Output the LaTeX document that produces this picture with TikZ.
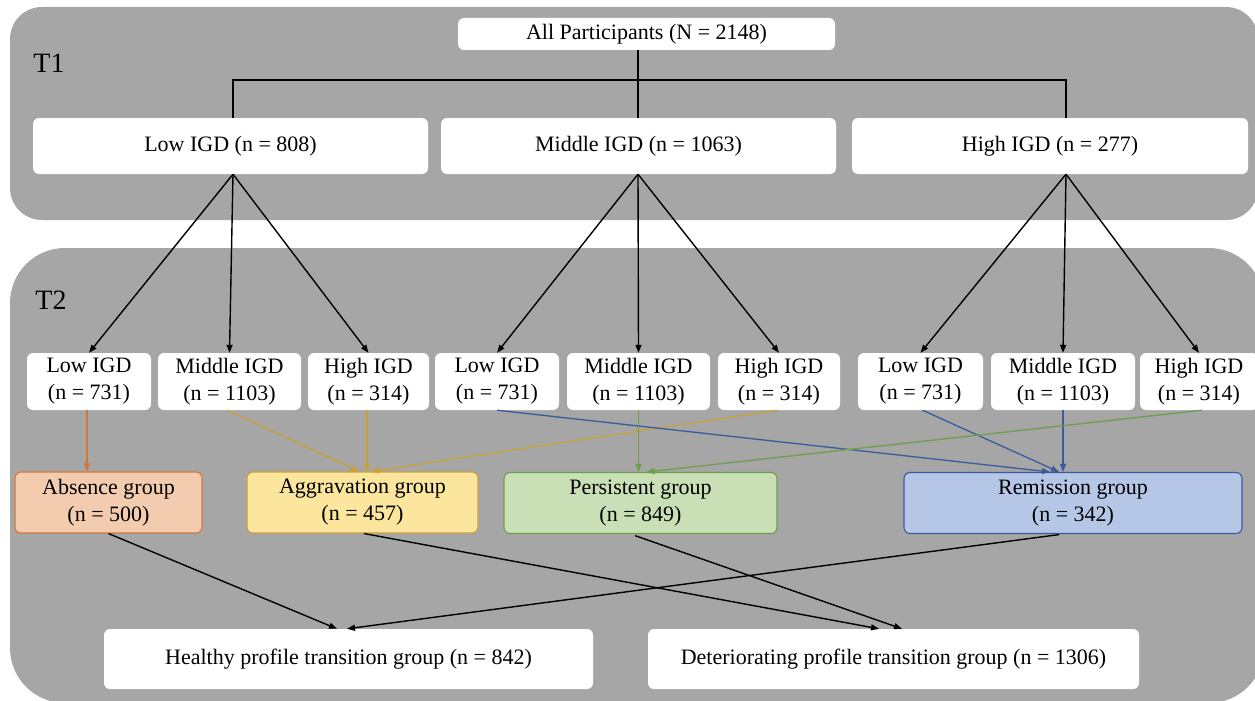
\documentclass[tikz,border=0pt]{standalone}
\usepackage{fontspec}
\setmainfont{Liberation Serif}
\usetikzlibrary{arrows.meta,calc}
\definecolor{panelgray}{HTML}{A6A6A6}
\definecolor{absfill}{HTML}{F3CCAF}
\definecolor{absdraw}{HTML}{D2783A}
\definecolor{aggfill}{HTML}{FCE59C}
\definecolor{aggdraw}{HTML}{C9A13A}
\definecolor{perfill}{HTML}{C9E0B7}
\definecolor{perdraw}{HTML}{6E9E4C}
\definecolor{remfill}{HTML}{B5C6E6}
\definecolor{remdraw}{HTML}{3A5C9E}
\begin{document}
\begin{tikzpicture}[x=1pt,y=-1pt,
  panel/.style={fill=panelgray, draw=none},
  wbox/.style={fill=white, draw=none, rounded corners=6pt, align=center, inner sep=0pt,
    font=\fontsize{22}{27}\selectfont},
  grp/.style={wbox, line width=1.1pt},
  tlabel/.style={font=\fontsize{28}{30}\selectfont, inner sep=0pt},
  tip/.style={-{Triangle[length=8pt,width=6pt]}},
  blk/.style={draw=black, line width=1.4pt},
  blkarr/.style={blk, tip},
  colarr/.style={line width=1.3pt, tip}
]
\useasboundingbox (0,0) rectangle (1255,701);
% panels
\fill[panelgray, rounded corners=32pt] (10,7) rectangle (1258,220);
\fill[panelgray, rounded corners=55pt] (10,248) rectangle (1264,703);
\node[tlabel] (t1) at (49,63) {T1};
\node[tlabel] (t2) at (51,300) {T2};

% T1 nodes
\node[wbox, minimum width=377pt, minimum height=32pt] (all) at (646.5,34) {All Participants (N = 2148)};
\node[wbox, minimum width=395pt, minimum height=56pt] (L1low) at (230.5,146) {Low IGD (n = 808)};
\node[wbox, minimum width=395pt, minimum height=56pt] (L1mid) at (638.5,146) {Middle IGD (n = 1063)};
\node[wbox, minimum width=396pt, minimum height=56pt] (L1high) at (1050,146) {High IGD (n = 277)};

\coordinate (forkL) at (233,80);
\coordinate (forkM) at (638,80);
\coordinate (forkH) at (1066,80);
\draw[blk] (forkM |- all.south) -- (forkM) -- (forkM |- L1mid.north);
\draw[blk] (forkL |- L1low.north) -- (forkL) -- (forkH) -- (forkH |- L1high.north);

% T2 level nodes
\node[wbox, minimum width=124pt, minimum height=57pt] (a1) at (89,381.5) {Low IGD\\(n = 731)};
\node[wbox, minimum width=143pt, minimum height=57pt] (a2) at (229.5,381.5) {Middle IGD\\(n = 1103)};
\node[wbox, minimum width=121pt, minimum height=57pt] (a3) at (368.5,381.5) {High IGD\\(n = 314)};
\node[wbox, minimum width=124pt, minimum height=57pt] (b1) at (497,381.5) {Low IGD\\(n = 731)};
\node[wbox, minimum width=143pt, minimum height=57pt] (b2) at (638.5,381.5) {Middle IGD\\(n = 1103)};
\node[wbox, minimum width=122pt, minimum height=57pt] (b3) at (779,381.5) {High IGD\\(n = 314)};
\node[wbox, minimum width=125pt, minimum height=57pt] (c1) at (920.5,381.5) {Low IGD\\(n = 731)};
\node[wbox, minimum width=144pt, minimum height=57pt] (c2) at (1063,381.5) {Middle IGD\\(n = 1103)};
\node[wbox, minimum width=118pt, minimum height=57pt] (c3) at (1199,381.5) {High IGD\\(n = 314)};

\draw[blkarr] (L1low.south -| forkL) -- (a1.north);
\draw[blkarr] (L1low.south -| forkL) -- (a2.north);
\draw[blkarr] (L1low.south -| forkL) -- (a3.north);
\draw[blkarr] (L1mid.south -| forkM) -- (b1.north);
\draw[blkarr] (L1mid.south -| forkM) -- (b2.north);
\draw[blkarr] (L1mid.south -| forkM) -- (b3.north);
\draw[blkarr] (L1high.south -| forkH) -- (c1.north);
\draw[blkarr] (L1high.south -| forkH) -- (c2.north);
\draw[blkarr] (L1high.south -| forkH) -- (c3.north);

% group nodes
\node[grp, fill=absfill, draw=absdraw, minimum width=187pt, minimum height=61pt] (absence) at (108.5,502.5) {Absence group\\(n = 500)};
\node[grp, fill=aggfill, draw=aggdraw, minimum width=231pt, minimum height=61pt] (aggr) at (362.5,502.5) {Aggravation group\\(n = 457)};
\node[grp, fill=perfill, draw=perdraw, minimum width=273pt, minimum height=61pt] (persist) at (640.5,503) {Persistent group\\(n = 849)};
\node[grp, fill=remfill, draw=remdraw, minimum width=338pt, minimum height=61pt] (remis) at (1073,503) {Remission group\\(n = 342)};

\draw[colarr, absdraw] ([xshift=-2pt]a1.south) -- ([xshift=-2pt]a1.south |- absence.north);
\draw[colarr, aggdraw] ([xshift=-2pt]a2.south) -- ([xshift=-3.5pt]aggr.north);
\draw[colarr, aggdraw] ([xshift=-1.5pt]a3.south) -- ([xshift=-1.5pt]a3.south |- aggr.north);
\draw[colarr, aggdraw] ([xshift=-2pt]b3.south) -- ([xshift=8.5pt]aggr.north);
\draw[colarr, remdraw] (b1.south) -- ([xshift=-23pt]remis.north);
\draw[colarr, remdraw] ([xshift=2pt]c1.south) -- ([xshift=-14pt]remis.north);
\draw[colarr, remdraw] (c2.south) -- (c2.south |- remis.north);
\draw[colarr, perdraw] (b2.south) -- (b2.south |- persist.north);
\draw[colarr, perdraw] ([xshift=3pt]c3.south) -- ([xshift=6pt]persist.north);

% bottom nodes
\node[wbox, minimum width=489pt, minimum height=60pt] (healthy) at (348.5,659) {Healthy profile transition group (n = 842)};
\node[wbox, minimum width=491pt, minimum height=60pt] (deter) at (893.5,659) {Deteriorating profile transition group (n = 1306)};

\draw[blkarr] (absence.south) -- ([xshift=-11.5pt]healthy.north);
\draw[blkarr, shorten <=4pt] ([xshift=-10pt]remis.south) -- ([xshift=-1.5pt]healthy.north);
\draw[blkarr] ([xshift=1.5pt]aggr.south) -- ([xshift=-14.5pt]deter.north);
\draw[blkarr, shorten <=5pt] ([xshift=-10pt]persist.south) -- ([xshift=8.5pt]deter.north);
\end{tikzpicture}
\end{document}
